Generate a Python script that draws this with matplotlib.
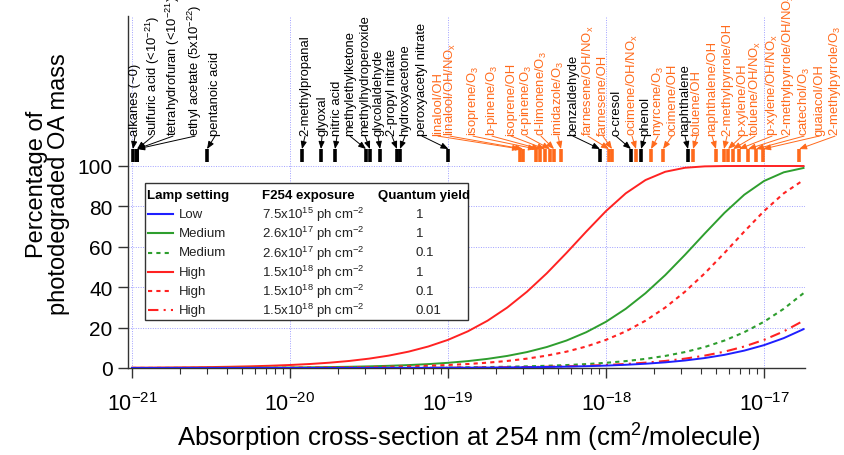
import numpy as np
import matplotlib
matplotlib.use('Agg')
import matplotlib.pyplot as plt
from matplotlib.lines import Line2D
from matplotlib.patches import Rectangle

plt.rcParams['font.family'] = ['Liberation Sans', 'DejaVu Sans']
plt.rcParams['mathtext.fontset'] = 'custom'
plt.rcParams['mathtext.rm'] = 'Liberation Sans'
plt.rcParams['mathtext.it'] = 'Liberation Sans:italic'
plt.rcParams['mathtext.bf'] = 'Liberation Sans:bold'
plt.rcParams['mathtext.default'] = 'regular'

# ---------------- data ----------------
log_sigma = [-21.0, -20.875, -20.75, -20.625, -20.5, -20.375, -20.25, -20.125,
             -20.0, -19.875, -19.75, -19.625, -19.5, -19.375, -19.25, -19.125,
             -19.0, -18.875, -18.75, -18.625, -18.5, -18.375, -18.25, -18.125,
             -18.0, -17.875, -17.75, -17.625, -17.5, -17.375, -17.25, -17.125,
             -17.0, -16.875, -16.75]

high_qy1 = [0.15, 0.20, 0.27, 0.36, 0.47, 0.63, 0.84, 1.12, 1.49, 1.98, 2.63, 3.49,
            4.63, 6.13, 8.09, 10.64, 13.93, 18.13, 23.41, 29.93, 37.77, 46.87, 56.98,
            67.53, 77.69, 86.47, 93.05, 97.15, 99.13, 99.82, 99.98, 100, 100, 100, 100]
medium_qy1 = [0.03, 0.03, 0.05, 0.06, 0.08, 0.11, 0.15, 0.19, 0.26, 0.35, 0.46, 0.61,
              0.82, 1.09, 1.45, 1.93, 2.57, 3.41, 4.52, 5.98, 7.89, 10.38, 13.60, 17.72,
              22.89, 29.31, 37.03, 46.00, 56.04, 66.58, 76.82, 85.77, 92.57, 96.88, 99.02]
high_qy01 = [0.02, 0.02, 0.03, 0.04, 0.05, 0.06, 0.08, 0.11, 0.15, 0.20, 0.27, 0.36,
             0.47, 0.63, 0.84, 1.12, 1.49, 1.98, 2.63, 3.49, 4.63, 6.13, 8.09, 10.64,
             13.93, 18.13, 23.41, 29.93, 37.77, 46.87, 56.98, 67.53, 77.69, 86.47, 93.05]
medium_qy01 = [0.00, 0.00, 0.01, 0.01, 0.01, 0.01, 0.01, 0.02, 0.03, 0.03, 0.05, 0.06,
               0.08, 0.11, 0.15, 0.19, 0.26, 0.35, 0.46, 0.61, 0.82, 1.09, 1.45, 1.93,
               2.57, 3.41, 4.52, 5.98, 7.89, 10.38, 13.60, 17.72, 22.89, 29.31, 37.03]
high_qy001 = [0.00, 0.00, 0.00, 0.00, 0.00, 0.01, 0.01, 0.01, 0.02, 0.02, 0.03, 0.04,
              0.05, 0.06, 0.08, 0.11, 0.15, 0.20, 0.27, 0.36, 0.47, 0.63, 0.84, 1.12,
              1.49, 1.98, 2.63, 3.49, 4.63, 6.13, 8.09, 10.64, 13.93, 18.13, 23.41]
low_qy1 = [0.00, 0.00, 0.00, 0.00, 0.00, 0.01, 0.01, 0.01, 0.01, 0.02, 0.02, 0.03,
           0.04, 0.05, 0.07, 0.09, 0.12, 0.16, 0.21, 0.28, 0.38, 0.50, 0.67, 0.90,
           1.19, 1.59, 2.11, 2.80, 3.72, 4.93, 6.52, 8.61, 11.31, 14.79, 19.22]

lamp_settings = ['Low', 'Medium', 'Medium', 'High', 'High', 'High']
exposures = [r'7.5x10$^{15}$ ph cm$^{-2}$', r'2.6x10$^{17}$ ph cm$^{-2}$',
             r'2.6x10$^{17}$ ph cm$^{-2}$', r'1.5x10$^{18}$ ph cm$^{-2}$',
             r'1.5x10$^{18}$ ph cm$^{-2}$', r'1.5x10$^{18}$ ph cm$^{-2}$']
quantum_yields = ['1', '1', '0.1', '1', '0.1', '0.01']

compounds = ['alkanes (~0)', r'sulfuric acid (<10$^{-21}$)', r'tetrahydrofuran (<10$^{-21}$)',
             r'ethyl acetate (5x10$^{-22}$)', 'pentanoic acid', '2-methylpropanal', 'glyoxal',
             'nitric acid', 'methylethylketone', 'methylhydroperoxide', 'glycolaldehyde',
             '2-propyl nitrate', 'hydroxyacetone', 'peroxyacetyl nitrate', 'linalool/OH',
             r'linalool/OH/NO$_x$', r'isoprene/O$_3$', r'b-pinene/O$_3$', 'isoprene/OH',
             r'α-pinene/O$_3$', r'd-limonene/O$_3$', r'imidazole/O$_3$', 'benzaldehyde',
             r'farnesene/OH/NO$_x$', 'farnesene/OH', 'o-cresol', r'ocimene/OH/NO$_x$', 'phenol',
             r'myrcene/O$_3$', 'ocimene/OH', 'naphthalene', 'toluene/OH', 'naphthalene/OH',
             '2-methylpyrrole/OH', 'p-xylene/OH', r'toluene/OH/NO$_x$', r'p-xylene/OH/NO$_x$',
             r'2-methylpyrrole/OH/NO$_x$', r'catechol/O$_3$', 'guaiacol/OH',
             r'2-methylpyrrole/O$_3$']
compound_log_sigma = [-20.994, -20.968, -20.968, -20.968, -20.525, -19.924, -19.804,
                      -19.715, -19.519, -19.494, -19.430, -19.323, -19.304, -18.997,
                      -18.544, -18.525, -18.443, -18.418, -18.386, -18.354, -18.329,
                      -18.285, -18.038, -17.981, -17.962, -17.842, -17.810, -17.778,
                      -17.715, -17.639, -17.481, -17.449, -17.304, -17.253, -17.228,
                      -17.196, -17.158, -17.101, -17.051, -17.006, -16.778]
compound_is_orange = [0]*14 + [1]*8 + [0, 1, 1, 0, 1, 0, 1, 1, 0] + [1]*10

# label positions (pixels in the figure)
label_px = [135, 153, 173, 195, 215, 305, 322, 337, 350, 365, 378, 392, 405, 422, 438, 450,
            473, 492, 511, 526, 541, 558, 573, 588, 603, 616, 632, 645, 658, 672, 685, 697,
            712, 727, 742, 755, 772, 788, 804, 819, 835]

# ---------------- figure ----------------
W, H = 844, 456
fig = plt.figure(figsize=(W/100, H/100), dpi=100)
ax_l, ax_r, ax_b, ax_t = 128, 805, 369, 17
ax = fig.add_axes([ax_l/W, 1-ax_b/H, (ax_r-ax_l)/W, (ax_b-ax_t)/H])

def px2log(px):
    return -21 + (px-132)/158.0

ax.set_xscale('log')
ax.set_xlim(10**px2log(ax_l), 10**px2log(ax_r))
ax.set_ylim(0, (ax_b-ax_t)/2.02)
ax.set_yticks([0, 20, 40, 60, 80, 100])

RED = '#ff2222'
GREEN = '#2e9e2e'
BLUE = '#1f1fff'
ORANGE = '#ff6a1c'

x = 10**np.array(log_sigma)
ax.plot(x, high_qy1, color=RED, lw=1.4, zorder=3)
ax.plot(x, medium_qy1, color=GREEN, lw=1.4, zorder=3)
ax.plot(x, high_qy01, color=RED, lw=1.5, ls=(0, (2, 2)), zorder=3)
ax.plot(x, medium_qy01, color=GREEN, lw=1.5, ls=(0, (2, 2)), zorder=3)
ax.plot(x, high_qy001, color=RED, lw=1.5, ls=(0, (5, 2.5, 1, 2.5)), zorder=3)
ax.plot(x, low_qy1, color=BLUE, lw=1.4, zorder=4)

gridkw = dict(color='#a0a0ff', lw=0.7, ls=(0, (1, 1.5)))
ax.grid(True, which='major', axis='both', **gridkw)
ax.set_axisbelow(True)

for s in ['top', 'right']:
    ax.spines[s].set_visible(False)
for s in ['left', 'bottom']:
    ax.spines[s].set_color('#333333')
    ax.spines[s].set_linewidth(1.0)
ax.tick_params(axis='y', which='major', direction='out', length=7, width=1,
               labelsize=15, pad=4, color='#333333')
ax.tick_params(axis='x', which='major', direction='out', length=7, width=1,
               labelsize=15.5, pad=10, color='#333333')
ax.tick_params(axis='x', which='minor', direction='out', length=4, width=0.8,
               color='#333333')

# compound markers and labels
y_bar0, y_bar1 = 102.0, 108.4
y_text = 114.8
for name, ls_c, org, lpx in zip(compounds, compound_log_sigma, compound_is_orange, label_px):
    c = ORANGE if org else 'black'
    xm = 10**ls_c
    xl = 10**px2log(lpx)
    ax.plot([xm, xm], [y_bar0, y_bar1], color=c, lw=2.6, solid_capstyle='butt',
            clip_on=False, zorder=4)
    ax.annotate('', xy=(xm, y_bar1), xytext=(xl, y_text),
                arrowprops=dict(arrowstyle='-|>,head_length=0.45,head_width=0.18',
                                color=c, lw=0.7, shrinkA=0, shrinkB=0),
                annotation_clip=False, zorder=4)
    ax.text(xl, y_text + 0.6, name, rotation=90, ha='center', va='bottom',
            fontsize=9.4, color=c, clip_on=False, zorder=4)

# legend table
def F(px, py):
    return (px/W, 1-py/H)

bx0, by0, bx1, by1 = 145, 184, 468, 321
fig.add_artist(Rectangle(F(bx0, by1), (bx1-bx0)/W, (by1-by0)/H, transform=fig.transFigure,
                         facecolor='white', edgecolor='#333333', lw=1.0, zorder=10))
hy = 196
fig.text(*F(147, hy), 'Lamp setting', fontsize=9.5, fontweight='bold', va='center', zorder=11)
fig.text(*F(262, hy), 'F254 exposure', fontsize=9.5, fontweight='bold', va='center', zorder=11)
fig.text(*F(378, hy), 'Quantum yield', fontsize=9.5, fontweight='bold', va='center', zorder=11)
row_y = [214.5, 234, 253.5, 273, 292, 311]
samples = [(BLUE, '-'), (GREEN, '-'), (GREEN, (0, (2, 2))), (RED, '-'), (RED, (0, (2, 2))),
           (RED, (0, (5, 2.5, 1, 2.5)))]
for ry, (col, lst), lamp, expo, qy in zip(row_y, samples, lamp_settings, exposures, quantum_yields):
    (xa, ya) = F(148, ry)
    (xb, yb) = F(173, ry)
    fig.add_artist(Line2D([xa, xb], [ya, yb], transform=fig.transFigure, color=col,
                          lw=1.5, ls=lst, zorder=11))
    fig.text(*F(179, ry), lamp, fontsize=9.5, va='center', color='#222222', zorder=11)
    fig.text(*F(262, ry), expo, fontsize=9.5, va='center', color='#222222', zorder=11)
    fig.text(*F(416, ry), qy, fontsize=9.5, va='center', color='#222222', zorder=11)

fig.text(*F(48, 184), 'Percentage of\nphotodegraded OA mass', rotation=90, ha='center',
         va='center', fontsize=17, multialignment='center', linespacing=1.05)
fig.text(*F(469, 438), r'Absorption cross-section at 254 nm (cm$^2$/molecule)',
         ha='center', va='center', fontsize=18.5)

fig.savefig('out.png', dpi=100)
